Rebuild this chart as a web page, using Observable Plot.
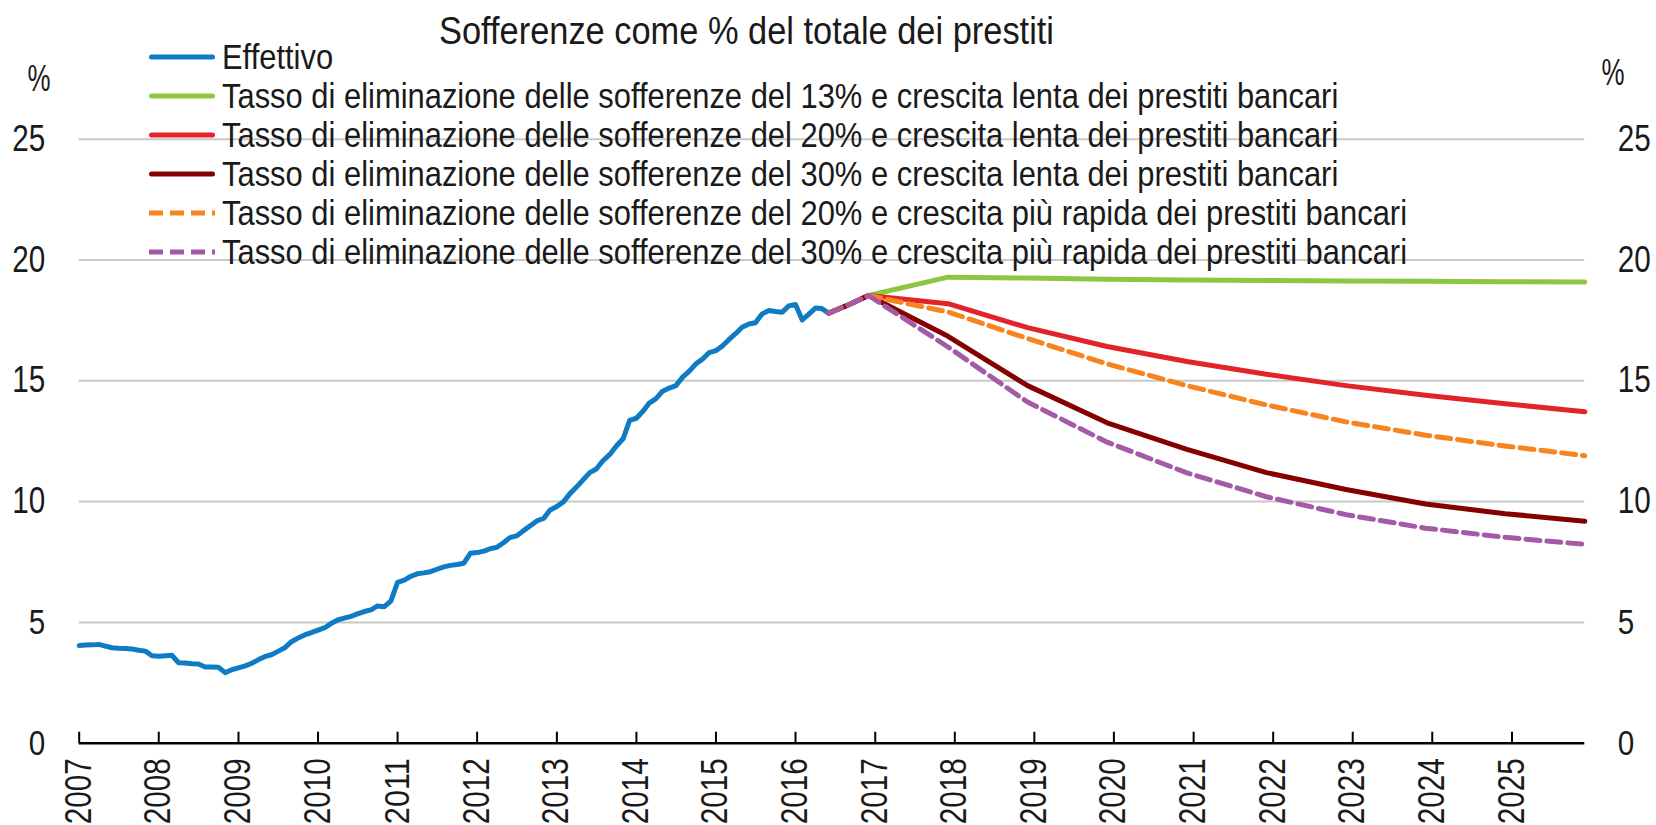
<!DOCTYPE html>
<html><head><meta charset="utf-8">
<script src="https://cdn.jsdelivr.net/npm/d3@7"></script>
<script src="https://cdn.jsdelivr.net/npm/@observablehq/plot@0.6"></script>
<style>
body{margin:0;background:#fff;}
#wrap{position:relative;width:1656px;height:825px;overflow:hidden;font-family:"Liberation Sans",Arial,sans-serif;color:#1a1a1a;}
#wrap > svg{position:absolute;left:0;top:0;}
.ov{position:absolute;white-space:nowrap;line-height:1;}
.row{position:absolute;left:149px;height:39px;display:flex;align-items:center;white-space:nowrap;font-size:35px;line-height:39px;}
#wrap .row svg{position:static;flex:none;}
.row span{display:inline-block;margin-left:6.7px;transform-origin:0 50%;}
</style></head>
<body><div id="wrap"></div>
<script>
const title = "Sofferenze come % del totale dei prestiti";
const unitLabel = "%";
const seriesNames = [
  "Effettivo",
  "Tasso di eliminazione delle sofferenze del 13% e crescita lenta dei prestiti bancari",
  "Tasso di eliminazione delle sofferenze del 20% e crescita lenta dei prestiti bancari",
  "Tasso di eliminazione delle sofferenze del 30% e crescita lenta dei prestiti bancari",
  "Tasso di eliminazione delle sofferenze del 20% e crescita più rapida dei prestiti bancari",
  "Tasso di eliminazione delle sofferenze del 30% e crescita più rapida dei prestiti bancari"
];
const seriesColors = ["#0E7BC4", "#8DC63F", "#E2232A", "#850000", "#F7841F", "#A45AA6"];
const seriesDash = [null, null, null, null, "14,7", "14,7"];

// Monthly actual values, Jan 2007 – Jun 2016
const actualValues = [
  4.04,4.06,4.07,4.09,4.02,3.95,3.93,3.92,3.90,3.85,3.81,3.62,
  3.60,3.62,3.64,3.33,3.32,3.29,3.28,3.15,3.15,3.14,2.92,3.04,
  3.12,3.20,3.30,3.45,3.58,3.66,3.80,3.95,4.20,4.35,4.48,4.58,
  4.68,4.78,4.95,5.10,5.18,5.25,5.35,5.45,5.52,5.68,5.65,5.88,
  6.66,6.75,6.90,7.01,7.05,7.10,7.20,7.30,7.36,7.40,7.45,7.86,
  7.89,7.95,8.05,8.11,8.30,8.52,8.58,8.80,9.00,9.20,9.30,9.65,
  9.80,10.00,10.32,10.60,10.90,11.20,11.35,11.70,11.95,12.30,12.60,13.36,
  13.45,13.75,14.08,14.26,14.57,14.70,14.80,15.15,15.40,15.70,15.90,16.17,
  16.25,16.45,16.70,16.95,17.22,17.35,17.40,17.77,17.91,17.87,17.84,18.10,
  18.16,17.52,17.75,18.01,17.99,17.80
];
// Projection dates and scenario values
const projDates = ["2016-06","2016-09","2016-12","2017-12","2018-12","2019-12","2020-12","2021-12","2022-12","2023-12","2024-12","2025-12"];
const scen13slow = [17.80,18.15,18.53,19.29,19.25,19.20,19.17,19.15,19.13,19.12,19.10,19.09];
const scen20slow = [17.80,18.15,18.53,18.19,17.20,16.42,15.80,15.27,14.80,14.40,14.05,13.72];
const scen30slow = [17.80,18.15,18.53,16.84,14.80,13.26,12.16,11.20,10.50,9.90,9.50,9.19];
const scen20fast = [17.80,18.15,18.53,17.85,16.75,15.70,14.80,14.00,13.30,12.75,12.30,11.90];
const scen30fast = [17.80,18.15,18.53,16.40,14.12,12.46,11.19,10.20,9.46,8.90,8.52,8.23];

const yTicks = [0,5,10,15,20,25];
const gridTicks = [5,10,15,20,25];
const yearTicks = d3.range(2007, 2026).map(y => new Date(Date.UTC(y, 0, 1)));

const parse = d3.utcParse("%Y-%m");
const actual = actualValues.map((v, i) => ({date: new Date(Date.UTC(2007, i, 1)), value: v}));
const scenArrays = [scen13slow, scen20slow, scen30slow, scen20fast, scen30fast];
const proj = scenArrays.map(arr => arr.map((v, i) => ({date: parse(projDates[i]), value: v})));

const font = '"Liberation Sans",Arial,sans-serif';

const lineMarks = [Plot.line(actual, {x: "date", y: "value", stroke: seriesColors[0], strokeWidth: 5, strokeLinejoin: "round"})];
proj.forEach((data, k) => {
  const s = k + 1;
  lineMarks.push(Plot.line(data, {x: "date", y: "value", stroke: seriesColors[s], strokeWidth: 5,
    strokeDasharray: seriesDash[s] || undefined, strokeLinejoin: "round"}));
});

const chart = Plot.plot({
  width: 1656, height: 825,
  marginLeft: 78.7, marginRight: 71.7, marginTop: 138.7, marginBottom: 82.3,
  style: {fontFamily: font, fontSize: "36px", color: "#1a1a1a", background: "transparent", overflow: "visible"},
  x: {type: "utc", domain: [new Date(Date.UTC(2007, 0, 1)), new Date(Date.UTC(2025, 11, 1))]},
  y: {domain: [0, 25]},
  marks: [
    Plot.ruleY(gridTicks, {stroke: "#c8c8c8", strokeWidth: 2}),
    Plot.ruleX(yearTicks, {stroke: "#000", strokeWidth: 2, insetTop: 593}),
    Plot.ruleY([0], {stroke: "#000", strokeWidth: 2.5}),
    Plot.axisY(yTicks, {anchor: "left", tickSize: 0, tickPadding: 34, fontSize: 36, label: null, fill: "#1a1a1a"}),
    Plot.axisY(yTicks, {anchor: "right", tickSize: 0, tickPadding: 33, fontSize: 36, label: null, fill: "#1a1a1a"}),
    Plot.axisX(yearTicks, {anchor: "bottom", tickSize: 0, tickPadding: 15, tickRotate: -90, fontSize: 36,
      tickFormat: d3.utcFormat("%Y"), label: null, fill: "#1a1a1a"}),
    ...lineMarks
  ]
});

const wrap = document.getElementById("wrap");
wrap.appendChild(chart);

// narrow the tick labels to the reference's condensed digits (scale along the text direction)
chart.querySelectorAll('g[aria-label$="tick label"] text').forEach(t => {
  const n = t.textContent.length;
  const natural = t.getComputedTextLength();
  if (!natural) return;
  const sx = (n * 16.5) / natural;
  const tr = t.getAttribute("transform");
  if (tr) {
    t.setAttribute("transform", `${tr} scale(${sx.toFixed(4)},1)`);
  } else {
    const x = +(t.getAttribute("x") || 0), y = +(t.getAttribute("y") || 0);
    t.setAttribute("x", 0); t.setAttribute("y", 0);
    t.setAttribute("transform", `translate(${x},${y}) scale(${sx.toFixed(4)},1)`);
  }
});

function addText(txt, css) {
  const d = document.createElement("div");
  d.className = "ov";
  d.textContent = txt;
  Object.assign(d.style, css);
  wrap.appendChild(d);
  return d;
}
const t = addText(title, {fontSize: "38px", top: "12.4px"});
const tw = t.getBoundingClientRect().width;
const ts = 615 / tw;
t.style.left = (746 - 615 / 2) + "px";
t.style.transformOrigin = "0 0";
t.style.transform = `scaleX(${ts})`;

[[39, 61.4], [1613, 55.4]].forEach(([cx, top]) => {
  const p = addText(unitLabel, {fontSize: "36px", top: top + "px"});
  const w = p.getBoundingClientRect().width;
  p.style.left = (cx - w / 2) + "px";
  p.style.transform = "scaleX(0.72)";
  p.style.transformOrigin = "50% 50%";
});

const spans = [];
seriesNames.forEach((name, i) => {
  const row = document.createElement("div");
  row.className = "row";
  row.style.top = (56.7 + i * 39 - 19.5) + "px";
  const dash = seriesDash[i] ? `stroke-dasharray="${seriesDash[i]}"` : "";
  const cap = seriesDash[i] ? "butt" : "round";
  row.innerHTML = `<svg width="66" height="10"><line x1="${seriesDash[i] ? 0 : 2.5}" y1="5" x2="${seriesDash[i] ? 66 : 63.5}" y2="5" stroke="${seriesColors[i]}" stroke-width="5" stroke-linecap="${cap}" ${dash}/></svg>`;
  const span = document.createElement("span");
  span.textContent = name;
  row.appendChild(span);
  wrap.appendChild(row);
  spans.push(span);
});
const ls = 1185 / spans[4].getBoundingClientRect().width;
spans.forEach(s => { s.style.transform = `scaleX(${ls})`; });
</script>
</body></html>
